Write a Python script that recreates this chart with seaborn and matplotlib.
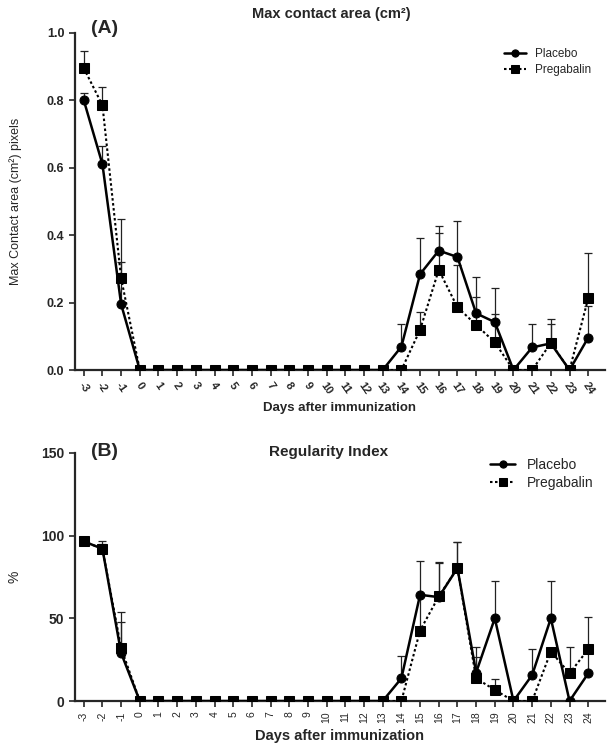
import numpy as np
import pandas as pd
import matplotlib
matplotlib.use("Agg")
import matplotlib.pyplot as plt
import seaborn as sns

days = list(range(-3, 25))
day_labels = [str(d) for d in days]

placebo_area = [0.80, 0.61, 0.195, 0] + [0] * 13 + [0.069, 0.284, 0.354, 0.335, 0.168, 0.142, 0, 0.067, 0.079, 0, 0.096]
placebo_area_err = [0.02, 0.055, 0.125, 0] + [0] * 13 + [0.067, 0.107, 0.073, 0.107, 0.107, 0.102, 0, 0.069, 0.072, 0, 0.094]
pregabalin_area = [0.895, 0.785, 0.272, 0] + [0] * 13 + [0, 0.119, 0.297, 0.186, 0.134, 0.082, 0, 0, 0.08, 0, 0.213]
pregabalin_area_err = [0.052, 0.055, 0.176, 0] + [0] * 13 + [0, 0.054, 0.108, 0.126, 0.083, 0.083, 0, 0, 0.056, 0, 0.133]

placebo_ri = [96.5, 92, 29, 0] + [0] * 13 + [13.7, 64.2, 62.8, 80.4, 17.2, 50, 0, 15.7, 50, 0, 16.7]
placebo_ri_err = [0.5, 5, 19, 0] + [0] * 13 + [13.7, 20.2, 20.6, 16, 15.7, 22.3, 0, 15.6, 22.3, 0, 14]
pregabalin_ri = [96.5, 92, 32, 0] + [0] * 13 + [0, 42.6, 63.2, 80.4, 13.7, 6.7, 0, 0, 29.9, 16.7, 31.3]
pregabalin_ri_err = [0.5, 3, 21.7, 0] + [0] * 13 + [0, 21, 20.6, 16, 13, 6.6, 0, 0, 0, 16.2, 19.7]

sns.set_style("ticks")
plt.rcParams['font.family'] = ['Liberation Sans', 'DejaVu Sans']

fig = plt.figure(figsize=(6.13, 7.43), dpi=100)
axA = fig.add_axes([0.122, 0.502, 0.865, 0.454])
axB = fig.add_axes([0.122, 0.0565, 0.865, 0.334])


def draw(ax, pl, pl_err, pr, pr_err):
    d = np.array(days)
    for vals, err in ((pl, pl_err), (pr, pr_err)):
        v = np.array(vals, float)
        e = np.array(err, float)
        m = e > 0
        ax.errorbar(d[m], v[m], yerr=[np.zeros(m.sum()), e[m]], fmt='none',
                    ecolor='#222222', elinewidth=0.9, capsize=3, capthick=0.9, zorder=2)
    sns.lineplot(x=days, y=pl, ax=ax, color='black', marker='o', markersize=6.5,
                 linewidth=1.8, linestyle='-', markeredgecolor='black', zorder=4)
    sns.lineplot(x=days, y=pr, ax=ax, color='black', marker='s', markersize=7,
                 linewidth=1.5, linestyle=(0, (1.2, 1.2)), markeredgecolor='black', zorder=3)
    ax.set_xlim(-3.48, 24.9)
    ax.set_xticks(days)
    for s in ('top', 'right'):
        ax.spines[s].set_visible(False)
    for s in ('left', 'bottom'):
        ax.spines[s].set_linewidth(1.6)
    ax.tick_params(axis='both', width=1.2, length=4, direction='out')


draw(axA, placebo_area, placebo_area_err, pregabalin_area, pregabalin_area_err)
axA.set_ylim(0, 1.0)
axA.set_yticks([0.0, 0.2, 0.4, 0.6, 0.8, 1.0])
axA.set_yticklabels(['0.0', '0.2', '0.4', '0.6', '0.8', '1.0'], fontsize=9, fontweight='bold')
axA.set_xticklabels(day_labels, fontsize=8, fontweight='bold', rotation=-55, ha='center')
axA.set_xlabel('Days after immunization', fontsize=9.5, fontweight='bold', labelpad=4)
axA.set_ylabel('Max Contact area (cm²) pixels', fontsize=9, fontstretch='condensed')
axA.yaxis.set_label_coords(-0.1, 0.5)
fig.text(0.54, 0.981, 'Max contact area (cm²)', fontsize=10.5, fontweight='bold', ha='center', va='center')
fig.text(0.148, 0.962, '(A)', fontsize=14, fontweight='bold', ha='left', va='center')
hA = [l for l in axA.get_lines() if l.get_marker() in ('o', 's')]
axA.legend(hA, ['Placebo', 'Pregabalin'], loc='upper left', bbox_to_anchor=(0.79, 0.985),
           frameon=False, fontsize=8.5, handlelength=1.8, handletextpad=0.8, labelspacing=0.3,
           markerscale=0.8)

draw(axB, placebo_ri, placebo_ri_err, pregabalin_ri, pregabalin_ri_err)
axB.set_ylim(0, 150)
axB.set_yticks([0, 50, 100, 150])
axB.set_yticklabels(['0', '50', '100', '150'], fontsize=10, fontweight='bold')
axB.set_xticklabels(day_labels, fontsize=7.5, rotation=90, ha='center')
axB.set_xlabel('Days after immunization', fontsize=10.5, fontweight='bold', labelpad=4)
axB.set_ylabel('%', fontsize=10)
axB.yaxis.set_label_coords(-0.1, 0.5)
fig.text(0.536, 0.392, 'Regularity Index', fontsize=11, fontweight='bold', ha='center', va='center')
fig.text(0.148, 0.392, '(B)', fontsize=14, fontweight='bold', ha='left', va='center')
hB = [l for l in axB.get_lines() if l.get_marker() in ('o', 's')]
axB.legend(hB, ['Placebo', 'Pregabalin'], loc='upper left', bbox_to_anchor=(0.76, 1.03),
           frameon=False, fontsize=10, handlelength=1.8, handletextpad=0.8, labelspacing=0.3,
           markerscale=0.8)

fig.savefig('out.png', dpi=100)
